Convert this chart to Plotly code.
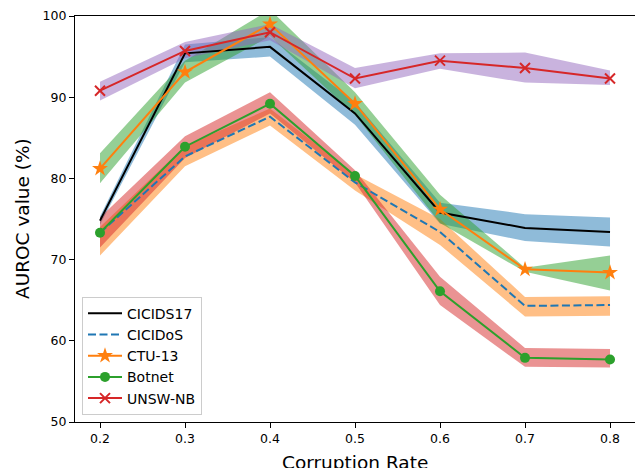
import plotly.graph_objects as go

rates = [0.2, 0.3, 0.4, 0.5, 0.6, 0.7, 0.8]
tick_labels = ["0.2", "0.3", "0.4", "0.5", "0.6", "0.7", "0.8"]
y_ticks = [50, 60, 70, 80, 90, 100]
names = ["CICIDS17", "CICIDoS", "CTU-13", "Botnet", "UNSW-NB"]

cicids17 = [74.8, 95.4, 96.2, 88.0, 75.8, 73.9, 73.4]
cicids17_lo = [74.3, 94.3, 95.0, 86.6, 74.4, 72.3, 71.6]
cicids17_hi = [75.3, 96.5, 97.4, 89.4, 77.0, 75.6, 75.2]

cicidos = [73.3, 82.7, 87.6, 79.5, 73.4, 64.3, 64.4]
cicidos_lo = [70.5, 81.5, 86.5, 78.5, 71.8, 63.0, 63.1]
cicidos_hi = [74.0, 84.0, 88.6, 80.5, 75.0, 65.4, 65.5]

ctu13 = [81.2, 93.1, 99.0, 89.2, 76.2, 68.8, 68.4]
ctu13_lo = [79.4, 91.8, 97.5, 87.8, 74.5, 68.5, 66.2]
ctu13_hi = [83.1, 94.5, 100.8, 90.6, 78.0, 69.0, 70.5]

botnet = [73.3, 83.9, 89.2, 80.3, 66.1, 57.9, 57.7]
botnet_lo = [71.5, 82.5, 88.0, 79.5, 64.4, 56.8, 56.7]
botnet_hi = [75.2, 85.2, 90.6, 81.0, 67.9, 59.1, 59.0]

unsw = [90.8, 95.7, 98.0, 92.3, 94.5, 93.6, 92.3]
unsw_lo = [89.6, 94.8, 97.0, 91.1, 93.5, 91.8, 91.5]
unsw_hi = [91.9, 96.8, 99.0, 93.6, 95.4, 95.5, 93.3]

means = [cicids17, cicidos, ctu13, botnet, unsw]
los = [cicids17_lo, cicidos_lo, ctu13_lo, botnet_lo, unsw_lo]
his = [cicids17_hi, cicidos_hi, ctu13_hi, botnet_hi, unsw_hi]

line_colors = ["#000000", "#1f77b4", "#ff7f0e", "#2ca02c", "#d62728"]
band_colors = ["rgba(31,119,180,0.5)", "rgba(255,127,14,0.5)", "rgba(44,160,44,0.5)",
               "rgba(214,39,40,0.5)", "rgba(148,103,189,0.5)"]
dashes = ["solid", "8px,3.5px", "solid", "solid", "solid"]
symbols = [None, None, "star", "circle", "x-thin"]

fig = go.Figure()

for i in range(5):
    fig.add_trace(go.Scatter(
        x=rates + rates[::-1], y=his[i] + los[i][::-1],
        fill="toself", fillcolor=band_colors[i], line=dict(width=0),
        mode="lines", showlegend=False, hoverinfo="skip"))

for i in range(5):
    mode = "lines" if symbols[i] is None else "lines+markers"
    marker = None
    if symbols[i] == "x-thin":
        marker = dict(symbol="x-thin", size=10, color=line_colors[i],
                      line=dict(width=2, color=line_colors[i]))
    elif symbols[i] == "star":
        marker = dict(symbol="star", size=12, color=line_colors[i], line=dict(width=0))
    elif symbols[i] == "circle":
        marker = dict(symbol="circle", size=10, color=line_colors[i], line=dict(width=0))
    fig.add_trace(go.Scatter(
        x=rates, y=means[i], name=names[i], mode=mode,
        line=dict(color=line_colors[i], width=2, dash=dashes[i]),
        marker=marker))

fig.update_layout(
    width=635, height=468,
    margin=dict(l=75, r=0, t=16, b=46),
    paper_bgcolor="white", plot_bgcolor="white",
    font=dict(family="DejaVu Sans", size=13, color="black"),
    legend=dict(x=0.0125, y=0.018, xanchor="left", yanchor="bottom",
                bgcolor="rgba(255,255,255,0.8)", bordercolor="#cccccc", borderwidth=1,
                font=dict(size=14), tracegroupgap=0, itemwidth=34),
    xaxis=dict(range=[0.17059, 0.8294], tickvals=rates, ticktext=tick_labels,
               ticks="outside", ticklen=5, tickwidth=1, tickcolor="black",
               tickfont=dict(size=12.5),
               showline=True, linecolor="black", linewidth=1.2, mirror=True,
               showgrid=False, zeroline=False, automargin=False),
    yaxis=dict(range=[50, 100], tickvals=y_ticks,
               ticks="outside", ticklen=5, tickwidth=1, tickcolor="black",
               tickfont=dict(size=12.5),
               showline=True, linecolor="black", linewidth=1.2, mirror=True,
               showgrid=False, zeroline=False, automargin=False),
    annotations=[
        dict(text="Corruption Rate", xref="paper", yref="paper", x=0.5, y=-0.068,
             xanchor="center", yanchor="top", showarrow=False,
             font=dict(size=18.5, color="black")),
        dict(text="AUROC value (%)", xref="paper", yref="paper", x=-0.0946, y=0.5,
             xanchor="center", yanchor="middle", textangle=-90, showarrow=False,
             font=dict(size=18.5, color="black")),
    ],
)

fig.write_html("out.html", config={"displayModeBar": False},
               post_script="document.body.style.margin='0px';document.body.style.overflow='hidden';")
